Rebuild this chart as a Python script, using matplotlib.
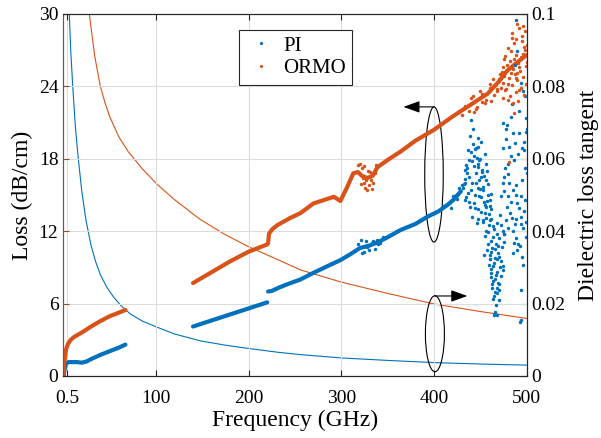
import matplotlib
matplotlib.use("Agg")
import matplotlib.pyplot as plt
from matplotlib.lines import Line2D
from matplotlib.patches import Ellipse

plt.rcParams["font.family"] = ["Liberation Serif", "DejaVu Serif"]

BLUE = "#0072BD"
ORANGE = "#D95319"
LEFT_AXIS = "#8a4b3b"

# ---- measured loss, PI (dB/cm) ----
pi_f1 = [0.5, 1, 2, 3, 4, 6, 10, 15, 20, 25, 30, 40, 50, 60, 67]
pi_L1 = [0.0, 0.35, 0.75, 1.0, 1.1, 1.15, 1.15, 1.15, 1.1, 1.2, 1.4, 1.75, 2.05, 2.35, 2.6]
pi_f2 = [140, 160, 180, 200, 220]
pi_L2 = [4.1, 4.6, 5.1, 5.6, 6.1]
pi_f3 = [221, 225, 232, 240, 256, 270, 285, 299, 310, 320, 330, 340, 350, 364, 380,
         393, 405, 415, 421, 429]
pi_L3 = [7.0, 7.05, 7.3, 7.55, 8.0, 8.55, 9.1, 9.6, 10.1, 10.6, 10.8, 11.1, 11.5, 12.1, 12.6,
         13.2, 13.65, 14.2, 14.6, 15.3]
# scattered PI points (bump + noisy high-frequency end)
pi_sf = [318, 321, 324, 327, 330, 333, 336, 339, 342, 345, 322, 328, 334, 340,
         410, 416, 420, 424, 427, 418, 425,
         440, 442, 447, 451, 455, 437, 433, 443, 447, 451, 434, 440, 445, 449, 453, 458, 438,
         443, 454, 460, 451, 455, 447, 441, 436, 431, 445, 449, 457, 462, 439, 444, 452, 435,
         430, 448, 456, 446,
         432, 434, 436, 438, 440, 442, 444, 446, 448, 450, 452, 454, 456, 458, 460, 433, 437,
         441, 445, 449, 453, 457, 461, 435, 439, 443, 447, 451, 455, 459, 438, 444, 450, 456,
         441, 447, 453,
         453, 456, 459, 462, 465, 468, 471, 474, 455, 458, 461, 464, 467, 470, 473, 457, 460,
         463, 466, 469, 472, 459, 462, 465, 468, 471, 461, 464, 467, 470, 463, 466, 469, 465,
         468, 467, 465, 470, 476, 454, 475,
         456, 460, 464, 468, 472, 476, 458, 462, 466, 470, 474, 460, 464, 468, 472, 462, 466,
         470, 464, 468, 466, 463, 469,
         488, 494, 483, 478, 485, 487, 481, 483, 480, 491, 476, 474, 481, 485, 472, 494, 490,
         497, 494, 487, 480, 476, 496, 499, 493, 498, 489, 484, 479, 495, 499, 492, 486, 478,
         500, 497, 493, 499, 496, 490,
         474, 477, 480, 483, 486, 489, 492, 495, 498, 475, 478, 482, 485, 488, 491, 494, 497,
         500, 476, 480, 484, 488, 492, 496, 499, 479, 487, 495, 498, 490, 485, 494, 494, 468]
pi_sL = [10.9, 11.3, 10.3, 11.2, 10.4, 11.0, 10.5, 11.3, 11.0, 11.5, 10.2, 10.7, 11.2, 10.9,
         14.1, 14.3, 14.9, 15.0, 15.6, 13.9, 14.7,
         21.2, 20.5, 19.7, 19.4, 18.4, 18.7, 17.1, 18.2, 17.3, 16.5, 16.0, 15.4, 16.0, 14.9,
         15.4, 15.9, 16.5, 14.3, 14.4, 14.6, 13.6, 13.5, 13.8, 17.8, 16.8, 15.6, 18.9, 17.9,
         17.0, 15.1, 14.0, 15.0, 16.9, 14.8, 15.8, 13.0, 14.0, 12.7,
         15.9, 16.3, 17.2, 17.9, 18.6, 19.2, 18.8, 18.1, 17.6, 18.0, 17.1, 16.6, 16.2, 15.0,
         14.1, 14.6, 15.2, 16.0, 16.8, 16.2, 15.7, 14.5, 13.8, 17.5, 19.9, 17.4, 15.6, 14.8,
         14.2, 13.4, 14.4, 13.9, 15.5, 17.6, 13.2, 19.0, 12.9,
         12.8, 13.1, 12.5, 13.0, 12.2, 12.7, 13.3, 12.0, 11.6, 11.9, 11.2, 11.5, 10.9, 11.4,
         10.7, 10.4, 10.0, 10.6, 9.8, 10.2, 9.5, 9.2, 8.9, 9.4, 8.6, 9.0, 8.2, 7.9, 8.4, 7.6,
         7.3, 7.0, 7.7, 6.6, 6.9, 5.9, 5.05, 6.3, 11.8, 10.0, 8.8,
         12.0, 12.9, 12.4, 11.8, 12.5, 11.1, 10.9, 10.3, 10.5, 9.9, 9.1, 9.7, 9.1, 9.7, 8.3,
         8.5, 8.0, 7.1, 6.4, 7.3, 5.3, 7.6, 10.8,
         29.5, 24.3, 21.5, 20.5, 20.1, 19.3, 19.0, 18.2, 17.6, 18.4, 16.5, 16.0, 16.0, 15.4,
         14.9, 14.9, 14.3, 13.7, 13.2, 12.6, 12.3, 11.8, 12.3, 11.5, 10.8, 17.2, 15.0, 13.1,
         14.0, 9.9, 20.2, 22.0, 11.0, 12.9, 16.8, 18.7, 4.5, 21.4, 23.6, 10.4,
         18.9, 17.2, 16.7, 14.4, 17.9, 15.8, 13.9, 16.2, 14.6, 21.0, 19.6, 13.5, 12.0, 11.4,
         10.9, 12.6, 19.4, 20.5, 15.3, 14.9, 22.5, 13.0, 20.1, 9.2, 12.8, 20.8, 25.8, 18.9,
         23.2, 26.9, 10.2, 7.1, 4.6, 5.05]

# ---- measured loss, ORMO (dB/cm) ----
or_f1 = [0.5, 1, 2, 3, 5, 8, 12, 20, 30, 40, 50, 60, 67]
or_L1 = [0.2, 1.0, 1.7, 2.2, 2.65, 3.0, 3.25, 3.6, 4.1, 4.55, 4.95, 5.25, 5.47]
or_f2 = [140, 160, 180, 200, 210, 220]
or_L2 = [7.7, 8.6, 9.5, 10.3, 10.6, 10.9]
or_f3 = [221, 222, 226, 231, 238, 245, 256, 270, 282, 292, 299, 306, 313, 318, 322, 328,
         334, 339, 350, 364, 380, 400, 420, 436, 450, 458, 470, 479, 490, 500]
or_L3 = [11.0, 11.8, 12.2, 12.5, 12.8, 13.1, 13.5, 14.3, 14.6, 14.85, 14.5, 15.6, 16.8, 16.9,
         16.6, 16.4, 16.6, 17.3, 17.9, 18.6, 19.5, 20.4, 21.5, 22.3, 23.0, 23.4, 24.4, 25.3,
         26.0, 26.6]
or_sf = [318, 320, 322, 324, 326, 328, 330, 332, 334, 336, 321, 325, 329, 333, 337, 323, 327,
         331, 440, 445, 450, 455, 460, 465, 443, 452, 462,
         470, 473, 476, 479, 482, 485, 488, 491, 494, 497, 500, 472, 475, 478, 481, 484, 487,
         490, 493, 496, 499, 477, 480, 483, 486, 489, 492, 495, 498, 482, 485, 488, 491, 494,
         497, 484, 490, 496, 492, 486, 480, 499, 474, 468, 481,
         430, 434, 438, 442, 446, 452, 456, 460, 464, 468, 471, 474, 477, 480, 483, 486, 489,
         492, 495, 498, 476, 484, 490, 496, 500]
or_sL = [17.5, 17.6, 17.2, 16.0, 15.6, 15.4, 15.8, 16.2, 16.0, 16.8, 15.9, 17.4, 17.0, 15.5,
         17.5, 16.4, 16.2, 16.9, 23.0, 22.1, 23.6, 22.6, 24.2, 23.3, 21.9, 22.7, 22.8,
         24.6, 25.2, 24.9, 25.8, 26.1, 25.4, 26.6, 25.9, 26.4, 27.3, 26.0, 23.9, 24.3, 23.8,
         24.7, 24.1, 25.0, 24.5, 25.3, 24.8, 25.7, 26.5, 27.2, 26.9, 27.6, 27.9, 28.8, 28.2,
         27.0, 23.2, 22.6, 23.5, 22.8, 23.9, 23.3, 28.4, 29.2, 29.0, 23.7, 21.8, 22.9, 24.2,
         23.0, 23.8, 17.7,
         21.6, 22.4, 22.0, 23.2, 22.3, 23.4, 22.9, 23.9, 24.6, 23.6, 25.0, 25.6, 23.7, 24.2,
         25.1, 26.3, 24.7, 25.6, 27.8, 28.6, 26.3, 28.0, 25.1, 26.7, 27.4]

# ---- dielectric loss tangent ----
tan_pi_f = [6.5, 8, 10.2, 13, 16.2, 20, 24.5, 30, 35, 40, 47, 54, 62, 72, 85, 100, 120, 148,
            175, 200, 230, 256, 299, 350, 400, 450, 500]
tan_pi = [0.1, 0.09, 0.08, 0.069, 0.06, 0.051, 0.043, 0.036, 0.0315, 0.028, 0.0245, 0.0219,
          0.0195, 0.0172, 0.0152, 0.0136, 0.0116, 0.0097, 0.0085, 0.0076, 0.0066, 0.0059,
          0.0050, 0.0043, 0.0037, 0.0033, 0.0030]
tan_or_f = [28.1, 30.7, 34, 36.1, 40, 45, 50, 60, 70, 85, 101, 120, 148, 175, 200, 230, 256,
            299, 350, 400, 450, 500]
tan_or = [0.1, 0.0947, 0.0883, 0.0853, 0.08, 0.0755, 0.0717, 0.066, 0.062, 0.0573, 0.053,
          0.0487, 0.0432, 0.039, 0.0357, 0.0323, 0.0293, 0.026, 0.0228, 0.0199, 0.0178, 0.0159]

x_ticks = [4.5, 100, 200, 300, 400, 500]
x_labels = ["0.5", "100", "200", "300", "400", "500"]
yl_ticks = [0, 6, 12, 18, 24, 30]
yr_ticks = [0, 0.02, 0.04, 0.06, 0.08, 0.1]
yr_labels = ["0", "0.02", "0.04", "0.06", "0.08", "0.1"]

fig = plt.figure(figsize=(6.01, 4.38), dpi=100)
ax = fig.add_axes([0.1053, 0.1416, 0.771, 0.8265])
ax2 = ax.twinx()

# loss tangent curves on the right axis (drawn underneath)
ax2.plot(tan_pi_f, tan_pi, color=BLUE, lw=0.8)
ax2.plot(tan_or_f, tan_or, color=ORANGE, lw=0.8)
ax2.set_ylim(0, 0.1)
ax2.set_yticks(yr_ticks)
ax2.set_yticklabels(yr_labels)
ax2.set_ylabel("Dielectric loss tangent", fontsize=17, labelpad=9)
ax2.tick_params(axis="y", direction="in", length=4, labelsize=14, color="#262626")

ax.set_zorder(ax2.get_zorder() + 1)
ax.patch.set_visible(False)

# measured loss bands
for f, L in [(pi_f1, pi_L1), (pi_f2, pi_L2), (pi_f3, pi_L3)]:
    ax.plot(f, L, color=BLUE, lw=3.0, solid_capstyle="round")
for f, L in [(or_f1, or_L1), (or_f2, or_L2), (or_f3, or_L3)]:
    ax.plot(f, L, color=ORANGE, lw=3.0, solid_capstyle="round")
ax.plot(pi_sf, pi_sL, "o", color=BLUE, ms=2.5, mew=0)
ax.plot(or_sf, or_sL, "o", color=ORANGE, ms=2.5, mew=0)

ax.set_xlim(0, 500)
ax.set_ylim(0, 30)
ax.set_xticks(x_ticks)
ax.set_xticklabels(x_labels)
ax.set_yticks(yl_ticks)
ax.grid(True, color="#dcdcdc", lw=0.8)
ax.set_axisbelow(True)
ax.tick_params(axis="x", direction="in", length=4, top=True, labelsize=14, pad=10,
               color="#262626")
ax.tick_params(axis="y", direction="in", length=4, labelsize=14, color=LEFT_AXIS)
ax.set_xlabel("Frequency (GHz)", fontsize=17, labelpad=2)
ax.set_ylabel("Loss (dB/cm)", fontsize=17, labelpad=4)

for a in (ax, ax2):
    for s in ("top", "bottom", "right"):
        a.spines[s].set_color("#262626")
    a.spines["left"].set_color(LEFT_AXIS)
    for s in a.spines.values():
        s.set_linewidth(0.8)

# ellipses and arrows pointing to the relevant axis
ax.add_patch(Ellipse((400, 16.7), 20, 11.2, fill=False, ec="black", lw=0.8))
ax.add_patch(Ellipse((401, 3.5), 20.5, 6.3, fill=False, ec="black", lw=0.8))
arrow = dict(arrowstyle="-|>,head_length=1.0,head_width=0.36", color="black", lw=0.8,
             mutation_scale=10, shrinkA=0, shrinkB=0)
ax.annotate("", xy=(367, 22.3), xytext=(400, 22.3), arrowprops=arrow)
ax.annotate("", xy=(436, 6.63), xytext=(401, 6.63), arrowprops=arrow)

handles = [Line2D([], [], ls="", marker="o", ms=2.3, mew=0, color=BLUE),
           Line2D([], [], ls="", marker="o", ms=2.3, mew=0, color=ORANGE)]
leg = ax.legend(handles, ["PI", "ORMO"], loc="upper left", bbox_to_anchor=(0.38, 0.956),
                fontsize=15, fancybox=False, framealpha=1, edgecolor="#262626",
                borderpad=0.3, handletextpad=0.3, handlelength=1.5, labelspacing=0.15,
                borderaxespad=0)
leg.get_frame().set_linewidth(0.8)

fig.savefig("out.png", dpi=100)
